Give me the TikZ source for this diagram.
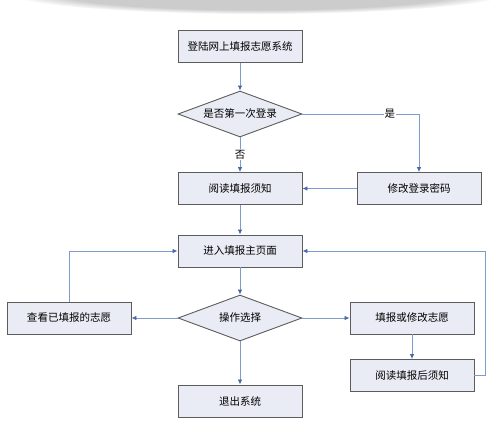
\documentclass[tikz,border=0pt]{standalone}
\usepackage{fontspec}
\setmainfont{Noto Sans CJK SC}
\usetikzlibrary{shapes.geometric,arrows.meta,fadings}
\definecolor{boxfill}{HTML}{E9ECF5}
\definecolor{boxline}{HTML}{5C5C5C}
\definecolor{flowline}{HTML}{7F9BC9}
\definecolor{flowtip}{HTML}{4A6AA5}
\tikzset{
  x=1pt,y=-1pt,
  stepbox/.style={draw=boxline,line width=0.9pt,fill=boxfill,minimum width=124pt,minimum height=32pt,inner sep=0pt,font=\fontsize{10.5}{12}\selectfont},
  choice/.style={diamond,draw=boxline,line width=0.9pt,fill=boxfill,minimum width=124pt,minimum height=46pt,inner sep=0pt,aspect=2.7,font=\fontsize{10.5}{12}\selectfont},
  flow/.style={draw=flowline,line width=0.8pt,-{Latex[length=5pt,width=4.5pt,color=flowtip]}},
  tag/.style={fill=white,inner sep=1pt,font=\fontsize{10.5}{12}\selectfont}
}
\begin{document}
\begin{tikzpicture}
\useasboundingbox (0,0) rectangle (500,434);
% shadow at the top edge
\begin{scope}
\clip (0,0) rectangle (500,434);
\fill[gray!40,path fading=circle with fuzzy edge 20 percent] (258,-8) ellipse [x radius=252,y radius=22];
\end{scope}

\node[stepbox] (login) at (240,46.5) {登陆网上填报志愿系统};
\node[choice] (first) at (240,114) {是否第一次登录};
\node[stepbox] (notice) at (240,188.5) {阅读填报须知};
\node[stepbox] (passwd) at (419,188.5) {修改登录密码};
\node[stepbox] (home) at (240,251) {进入填报主页面};
\node[choice] (oper) at (240,318) {操作选择};
\node[stepbox] (view) at (69,318) {查看已填报的志愿};
\node[stepbox] (edit) at (412,318) {填报或修改志愿};
\node[stepbox] (after) at (412,375.5) {阅读填报后须知};
\node[stepbox] (quit) at (240,401) {退出系统};
\coordinate (back) at (485,251);

\draw[flow] (login) -- (first);
\draw[flow] (first) -- node[tag,pos=0.5]{否} (notice);
\draw[flow] (first.east) -- node[tag,pos=0.75]{是} (first.east -| passwd) -- (passwd);
\draw[flow] (passwd) -- (notice);
\draw[flow] (notice) -- (home);
\draw[flow] (home) -- (oper);
\draw[flow] (oper) -- (view);
\draw[flow] (oper) -- (edit);
\draw[flow] (oper) -- (quit);
\draw[flow] (edit) -- (after);
\draw[flow] (view.north) |- (home.west);
\draw[flow] (after.east) -| (back) -- (home.east);
\end{tikzpicture}
\end{document}
